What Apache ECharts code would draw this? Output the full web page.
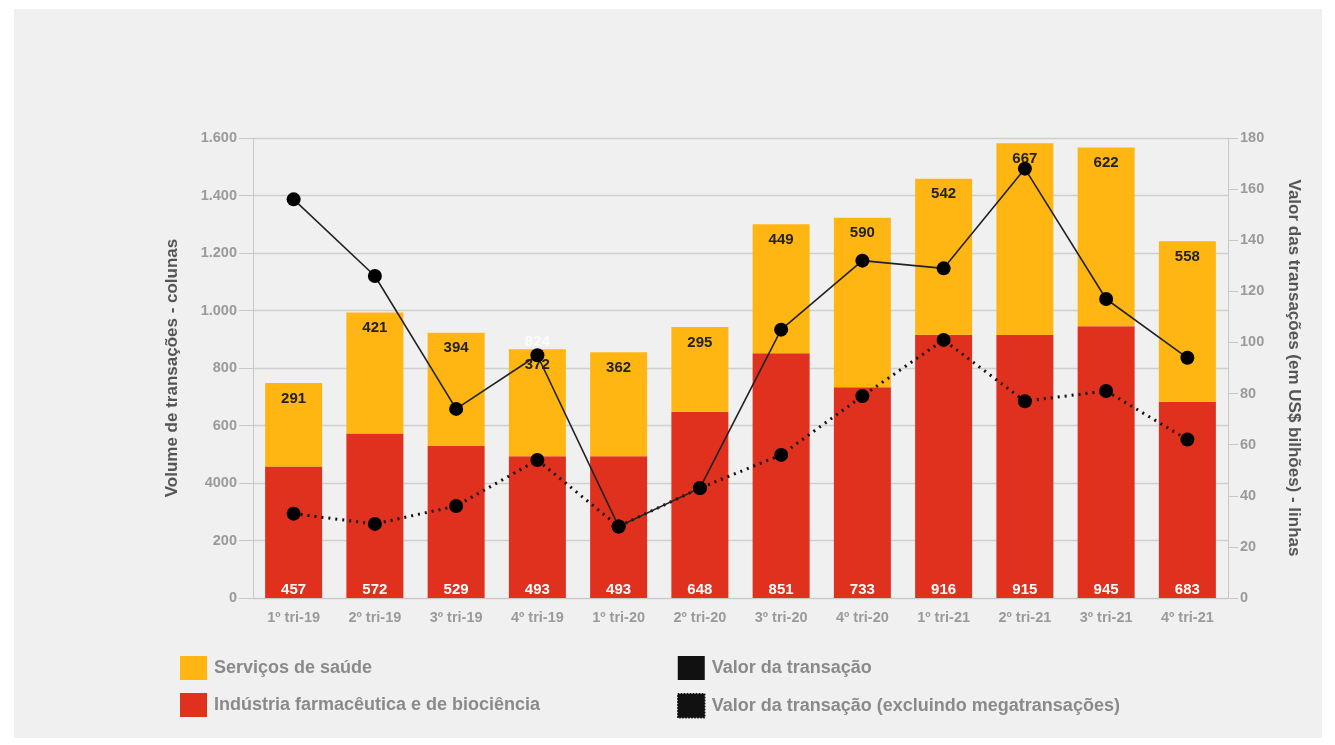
<!DOCTYPE html>
<html><head><meta charset="utf-8">
<script src="https://cdn.jsdelivr.net/npm/echarts@6/dist/echarts.min.js"></script>
<style>
html,body{margin:0;padding:0;background:#fff;width:1335px;height:745px;overflow:hidden;}
#c{position:absolute;left:14px;top:9px;width:1308px;height:729px;background:#f0f0f0;}
</style></head><body>
<div id="c"></div>
<script>
const categories = ['1º tri-19','2º tri-19','3º tri-19','4º tri-19','1º tri-20','2º tri-20','3º tri-20','4º tri-20','1º tri-21','2º tri-21','3º tri-21','4º tri-21'];
const pharma = [457,572,529,493,493,648,851,733,916,915,945,683];
const health = [291,421,394,372,362,295,449,590,542,667,622,558];
const dealValue = [156,126,74,95,28,43,105,132,129,168,117,94];
const dealValueExMega = [33,29,36,54,28,43,56,79,101,77,81,62];
const leftTicks = ['0','200','4000','600','800','1.000','1.200','1.400','1.600'];
const strayLabels = ['', '', '', '824', '', '', '', '', '', '', '', ''];

const FONT = '"Liberation Sans", Arial, sans-serif';
const chart = echarts.init(document.getElementById('c'));
const totals = pharma.map((v,i)=>v+health[i]);

chart.setOption({
  animation:false,
  textStyle:{fontFamily:FONT},
  grid:{left:239,top:129,right:94,bottom:140},
  legend:[
    {left:161,top:642,orient:'vertical',itemWidth:27,itemHeight:24,itemGap:13,icon:'rect',
     textStyle:{color:'#8a8a8a',fontSize:18,fontWeight:'bold',fontFamily:FONT,padding:[0,0,0,2]},
     data:['Serviços de saúde','Indústria farmacêutica e de biociência'],selectedMode:false},
    {left:658,top:642,orient:'vertical',itemWidth:27,itemHeight:24,itemGap:13,icon:'rect',
     textStyle:{color:'#8a8a8a',fontSize:18,fontWeight:'bold',fontFamily:FONT,padding:[0,0,0,2]},
     data:[{name:'Valor da transação',itemStyle:{color:'#111'}},
           {name:'Valor da transação (excluindo megatransações)',itemStyle:{color:'#111',borderColor:'#111',borderWidth:1.5,borderType:'dotted'}}],
     selectedMode:false}
  ],
  xAxis:{type:'category',data:categories,
    axisLine:{lineStyle:{color:'#c8c8c8'}},axisTick:{show:false},
    axisLabel:{color:'#9a9a9a',fontSize:14.5,fontWeight:'bold',margin:12,fontFamily:FONT}},
  yAxis:[
    {type:'value',min:0,max:1600,interval:200,position:'left',
     name:'Volume de transações - colunas',nameLocation:'middle',nameGap:72,nameRotate:90,
     nameTextStyle:{color:'#555',fontSize:17,fontWeight:'bold',fontFamily:FONT},
     axisLine:{show:true,lineStyle:{color:'#c8c8c8'}},
     axisTick:{show:true,length:14,lineStyle:{color:'#c8c8c8'}},
     splitLine:{lineStyle:{color:'#cfcfcf',width:1.3}},
     axisLabel:{color:'#9a9a9a',fontSize:14.5,fontWeight:'bold',margin:16,fontFamily:FONT,
       formatter:(v)=>leftTicks[Math.round(v/200)]}},
    {type:'value',min:0,max:180,interval:20,position:'right',
     name:'Valor das transações (em US$ bilhões) - linhas',nameLocation:'middle',nameGap:57,nameRotate:-90,
     nameTextStyle:{color:'#555',fontSize:17,fontWeight:'bold',fontFamily:FONT},
     axisLine:{show:true,lineStyle:{color:'#c8c8c8'}},
     axisTick:{show:true,length:10,lineStyle:{color:'#c8c8c8'}},
     splitLine:{show:false},
     axisLabel:{color:'#9a9a9a',fontSize:14.5,fontWeight:'bold',margin:12,fontFamily:FONT}}
  ],
  series:[
    {name:'Indústria farmacêutica e de biociência',type:'bar',stack:'v',barWidth:57,data:pharma,
     itemStyle:{color:'#E0301E'},
     label:{show:true,position:'insideBottom',distance:1,color:'#fff',fontSize:15,fontWeight:'bold',fontFamily:FONT}},
    {name:'Serviços de saúde',type:'bar',stack:'v',barWidth:57,data:health,
     itemStyle:{color:'#FFB612'},
     label:{show:true,position:'insideTop',distance:8,color:'#222',fontSize:15,fontWeight:'bold',fontFamily:FONT}},
    {name:'stray',type:'scatter',data:totals,symbolSize:0,z:5,silent:true,
     label:{show:true,position:'top',distance:0,color:'#fff',fontSize:15,fontWeight:'bold',fontFamily:FONT,
       formatter:(p)=>strayLabels[p.dataIndex]}},
    {name:'Valor da transação',type:'line',yAxisIndex:1,data:dealValue,z:10,
     symbol:'circle',symbolSize:14,itemStyle:{color:'#000'},lineStyle:{color:'#222',width:1.6}},
    {name:'Valor da transação (excluindo megatransações)',type:'line',yAxisIndex:1,data:dealValueExMega,z:9,
     symbol:'circle',symbolSize:14,itemStyle:{color:'#000'},lineStyle:{color:'#111',width:3,type:[2,5]}}
  ]
});
</script></body></html>
